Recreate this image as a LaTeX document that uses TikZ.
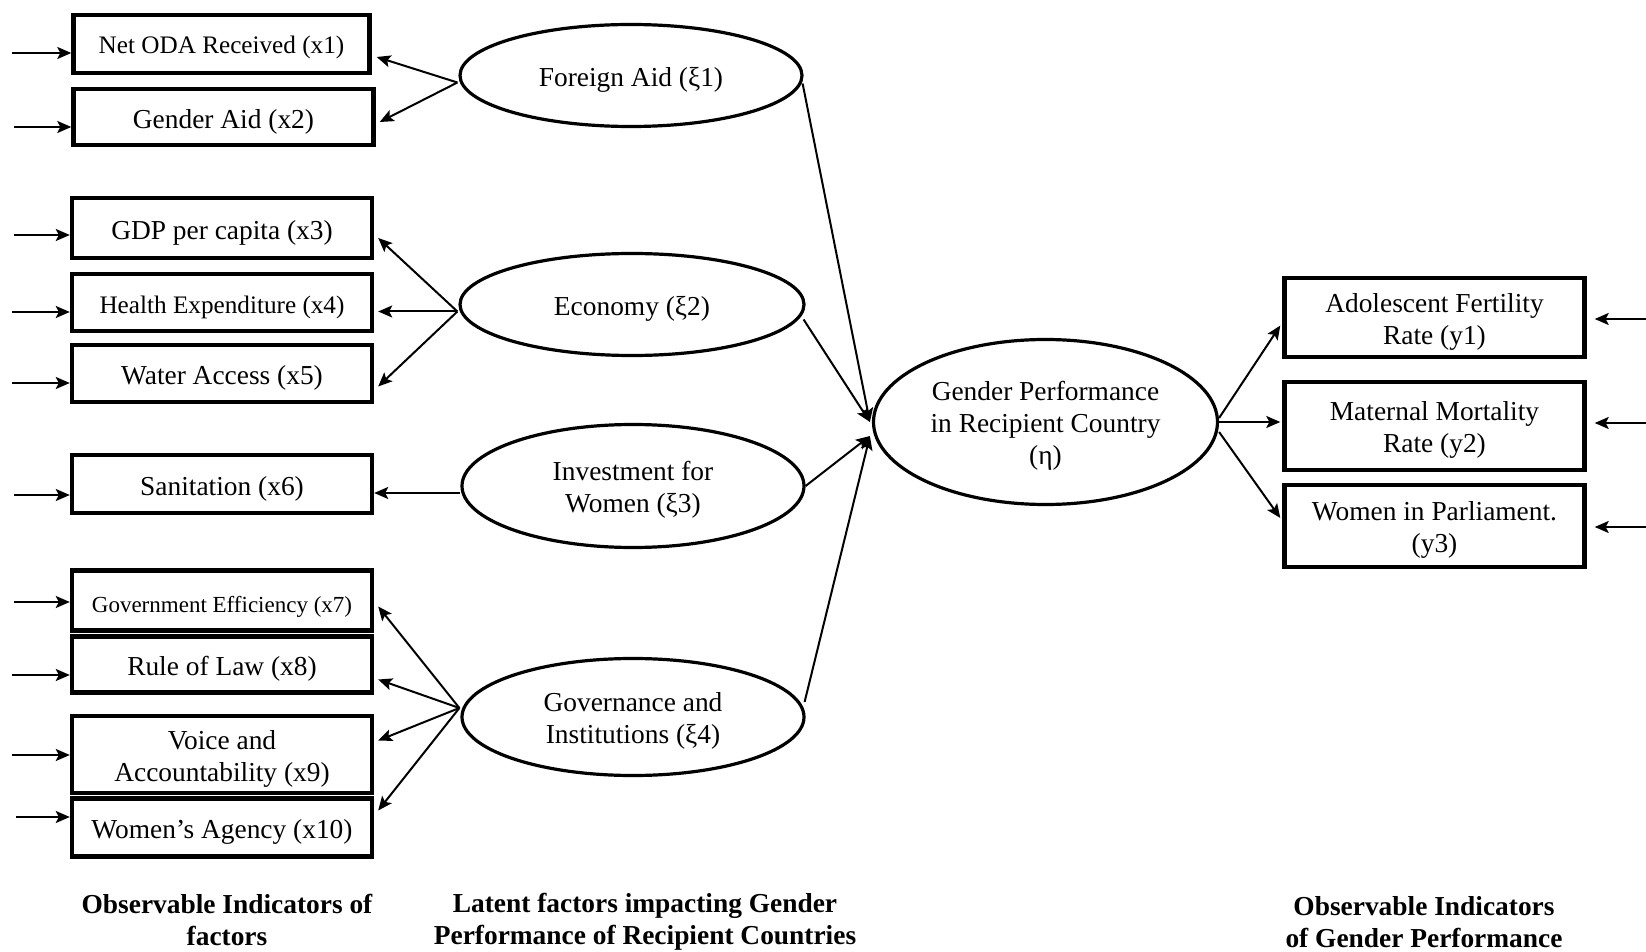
\documentclass[tikz,border=0pt]{standalone}
\usepackage{fontspec}
\setmainfont{Liberation Serif}
\usetikzlibrary{arrows.meta,calc,shapes.geometric}
\newcommand{\tstrut}{\rule{0pt}{14pt}}
\newcommand{\mstrut}{\rule{0pt}{13.5pt}}
\begin{document}
\begin{tikzpicture}[x=0.5pt,y=-0.5pt,
  box/.style={draw,line width=2.2pt,minimum width=150pt,inner sep=1pt,align=center,font=\fontsize{13.7}{16}\selectfont},
  lat/.style={draw,ellipse,line width=1.6pt,inner sep=0pt,align=center,font=\fontsize{13.7}{16}\selectfont},
  arr/.style={line width=1pt,-{Stealth[length=7pt,width=6pt,inset=1.5pt]}},
  captext/.style={font=\bfseries\fontsize{13.7}{16}\selectfont,align=center}]
\useasboundingbox[fill=white] (0,0) rectangle (1646,952);

% left observable boxes
\node[box,minimum width=148pt,minimum height=29pt,font=\fontsize{12.6}{15}\selectfont] (x1) at (221.5,44) {\rule{0pt}{12pt}Net ODA Received (x1)};
\node[box,minimum width=150pt,minimum height=28pt] (x2) at (223.5,117) {\tstrut Gender Aid (x2)};
\node[box,minimum height=30pt] (x3) at (222,228) {\tstrut GDP per capita (x3)};
\node[box,minimum height=28.5pt,font=\fontsize{12.6}{15}\selectfont] (x4) at (222,302.5) {\tstrut Health Expenditure (x4)};
\node[box,minimum height=28.5pt] (x5) at (222,373.5) {\tstrut Water Access (x5)};
\node[box,minimum height=29pt] (x6) at (222,484) {\tstrut Sanitation (x6)};
\node[box,minimum height=30pt,font=\fontsize{11.5}{14}\selectfont] (x7) at (222,600.5) {\tstrut Government Efficiency (x7)};
\node[box,minimum height=28pt] (x8) at (222,664.5) {\tstrut Rule of Law (x8)};
\node[box,minimum height=38.5pt] (x9) at (222,754.5) {\mstrut Voice and\\Accountability (x9)};
\node[box,minimum height=29pt] (x10) at (222,827.5) {\tstrut Women’s Agency (x10)};

% latent ellipses
\node[lat,minimum width=171pt,minimum height=51pt] (fa) at (631,75.5) {\tstrut Foreign Aid (ξ1)};
\node[lat,minimum width=172pt,minimum height=51pt] (ec) at (632,304.5) {\tstrut Economy (ξ2)};
\node[lat,minimum width=171pt,minimum height=61.5pt] (iw) at (633,486) {\mstrut Investment for\\Women (ξ3)};
\node[lat,minimum width=171pt,minimum height=58.5pt] (gi) at (633,717) {\mstrut Governance and\\Institutions (ξ4)};
\node[lat,minimum width=172pt,minimum height=82.5pt] (gp) at (1045.5,422) {\mstrut Gender Performance\\in Recipient Country\\(η)};

% right observable boxes
\node[box,minimum width=150pt,minimum height=39.5pt] (y1) at (1434.5,317.5) {\mstrut Adolescent Fertility\\Rate (y1)};
\node[box,minimum width=150pt,minimum height=44pt] (y2) at (1434.5,426) {\mstrut Maternal Mortality\\Rate (y2)};
\node[box,minimum width=150pt,minimum height=41pt] (y3) at (1434.5,526) {\mstrut Women in Parliament.\\(y3)};

% captions
\node[captext] (c1) at (227,920) {Observable Indicators of\\factors};
\node[captext] (c2) at (645,922) {Latent factors impacting Gender\\Performance of Recipient Countries};
\node[captext] (c3) at (1424,922) {Observable Indicators\\of Gender Performance};

% error arrows (left)
\coordinate (e1) at (12,53);
\coordinate (e2) at (14,127);
\coordinate (e3) at (14,235);
\coordinate (e4) at (12,312);
\coordinate (e5) at (12,383);
\coordinate (e6) at (14,495);
\coordinate (e7) at (14,602);
\coordinate (e8) at (12,675);
\coordinate (e9) at (12,755);
\coordinate (e10) at (16,817);
\foreach \i in {1,...,10}{
  \draw[arr] (e\i) -- (e\i -| x\i.west);
}
% error arrows (right)
\coordinate (f1) at (1646,319);
\coordinate (f2) at (1646,423);
\coordinate (f3) at (1646,527);
\foreach \i in {1,2,3}{
  \draw[arr] (f\i) -- ($(f\i -| y\i.east)+(8,0)$);
}

% loadings
\coordinate (sfa) at ($(fa.west)+(-1,7)$);
\draw[arr] (sfa) -- ($(x1.east)+(5,13)$);
\draw[arr] (sfa) -- ($(x2.east)+(4,5)$);
\coordinate (sec) at ($(ec.west)+(-1,7)$);
\draw[arr] (sec) -- ($(x3.east)+(4,10)$);
\draw[arr] (sec) -- ($(x4.east)+(4,9)$);
\draw[arr] (sec) -- ($(x5.east)+(4,13)$);
\coordinate (siw) at ($(iw.west)+(0,7)$);
\draw[arr] (siw) -- (siw -| x6.east);
\coordinate (sgi) at ($(gi.west)+(-1,-9)$);
\draw[arr] (sgi) -- ($(x7.east)+(4,6)$);
\draw[arr] (sgi) -- ($(x8.east)+(4,15)$);
\draw[arr] (sgi) -- ($(x9.east)+(4,-14)$);
\draw[arr] (sgi) -- ($(x10.east)+(4,-17)$);

% structural paths
\draw[arr] ($(fa.east)+(-1,8)$) -- ($(gp.west)+(-2,0)$);
\draw[arr] ($(ec.east)+(-2,15)$) -- ($(gp.west)+(-2,0)$);
\draw[arr] (iw.east) -- ($(gp.west)+(-2,14)$);
\draw[arr] ($(gi.east)+(-1,-15)$) -- ($(gp.west)+(-2,14)$);

% indicators of eta
\draw[arr] ($(gp.east)+(0,-4)$) -- ($(y1.west)+(-2,8)$);
\draw[arr] (gp.east) -- ($(y2.west)+(-2,-4)$);
\draw[arr] ($(gp.east)+(0,10)$) -- ($(y3.west)+(-2,-8)$);
\end{tikzpicture}
\end{document}
